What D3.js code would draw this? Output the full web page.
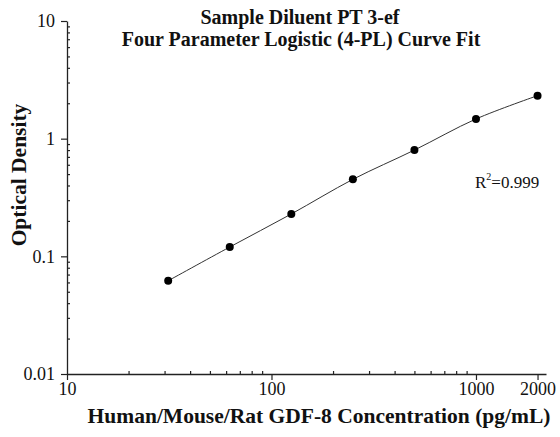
<!DOCTYPE html>
<html>
<head>
<meta charset="utf-8">
<script src="https://cdn.jsdelivr.net/npm/d3@7"></script>
<style>
  html, body { margin: 0; padding: 0; background: #fff; }
  svg { display: block; }
  text { font-family: "Liberation Serif", "Times New Roman", serif; fill: #111; }
</style>
</head>
<body>
<svg id="chart" width="560" height="437"></svg>
<script>
// Data
const concentrations = [31.25, 62.5, 125, 250, 500, 1000, 2000];
const opticalDensity = [0.062, 0.120, 0.229, 0.451, 0.80, 1.47, 2.32];
const xMajorTicks = [10, 100, 1000, 2000];
const xMajorLabels = ["10", "100", "1000", "2000"];
const yMajorTicks = [0.01, 0.1, 1, 10];
const yMajorLabels = ["0.01", "0.1", "1", "10"];
const titleLines = ["Sample Diluent PT 3-ef", "Four Parameter Logistic (4-PL) Curve Fit"];
const xTitle = "Human/Mouse/Rat GDF-8 Concentration (pg/mL)";
const yTitle = "Optical Density";
const r2Label = "0.999";

const svg = d3.select("#chart");
const plotLeft = 67, plotRight = 546, plotTop = 21, plotBottom = 374;

const x = d3.scaleLog().domain([10, 2200]).range([plotLeft, plotRight]);
const y = d3.scaleLog().domain([0.01, 10]).range([plotBottom, plotTop]);

// minor ticks
const xMinor = [];
for (let d = 10; d < 1000; d *= 10) for (let m = 2; m <= 9; m++) xMinor.push(m * d);
const yMinor = [];
for (let d = 0.01; d < 9; d *= 10) for (let m = 2; m <= 9; m++) yMinor.push(+(m * d).toPrecision(3));

const axisColor = "#222";
const tickFont = "18px";

// X axis
const gx = svg.append("g").attr("transform", `translate(0,${plotBottom})`);
gx.call(d3.axisBottom(x).tickValues(xMajorTicks).tickFormat((d, i) => xMajorLabels[i]).tickSize(6).tickPadding(2).tickSizeOuter(0));
const gxMinor = gx.append("g").call(d3.axisTop(x).tickValues(xMinor).tickFormat("").tickSize(3).tickSizeOuter(0));
gxMinor.select(".domain").remove();
gx.selectAll(".domain").attr("stroke", axisColor).attr("stroke-width", 1.3);
gx.selectAll(".tick line").attr("stroke", axisColor).attr("stroke-width", 1.2);
gx.selectAll(".tick text").style("font-family", '"Liberation Serif", serif').style("font-size", tickFont).attr("fill", "#111");

// Y axis
const gy = svg.append("g").attr("transform", `translate(${plotLeft},0)`);
gy.call(d3.axisLeft(y).tickValues(yMajorTicks).tickFormat((d, i) => yMajorLabels[i]).tickSize(6).tickPadding(6).tickSizeOuter(0));
const gyMinor = gy.append("g").call(d3.axisRight(y).tickValues(yMinor).tickFormat("").tickSize(3).tickSizeOuter(0));
gyMinor.select(".domain").remove();
gy.selectAll(".domain").attr("stroke", axisColor).attr("stroke-width", 1.3);
gy.selectAll(".tick line").attr("stroke", axisColor).attr("stroke-width", 1.2);
gy.selectAll(".tick text").style("font-family", '"Liberation Serif", serif').style("font-size", tickFont).attr("fill", "#111");

// Curve
const pts = concentrations.map((c, i) => [c, opticalDensity[i]]);
svg.append("path")
  .datum(pts)
  .attr("fill", "none")
  .attr("stroke", "#333")
  .attr("stroke-width", 1)
  .attr("d", d3.line().x(d => x(d[0])).y(d => y(d[1])).curve(d3.curveCatmullRom.alpha(0.5)));

// Points
svg.append("g").selectAll("circle")
  .data(pts)
  .join("circle")
  .attr("cx", d => x(d[0]))
  .attr("cy", d => y(d[1]))
  .attr("r", 4)
  .attr("fill", "#000");

// Title
svg.append("text")
  .attr("x", 300).attr("y", 24)
  .attr("text-anchor", "middle")
  .style("font-size", "20px").style("font-weight", "bold")
  .text(titleLines[0]);
svg.append("text")
  .attr("x", 301).attr("y", 46)
  .attr("text-anchor", "middle")
  .style("font-size", "20px").style("font-weight", "bold")
  .text(titleLines[1]);

// Axis titles
svg.append("text")
  .attr("x", 319).attr("y", 423)
  .attr("text-anchor", "middle")
  .style("font-size", "21.5px").style("font-weight", "bold")
  .text(xTitle);
svg.append("text")
  .attr("transform", "translate(26,175) rotate(-90)")
  .attr("text-anchor", "middle")
  .style("font-size", "21.5px").style("font-weight", "bold")
  .text(yTitle);

// R^2 annotation
const r2 = svg.append("text")
  .attr("x", 475).attr("y", 188)
  .style("font-size", "17px");
r2.append("tspan").text("R");
r2.append("tspan").attr("dy", -8).style("font-size", "10px").text("2");
r2.append("tspan").attr("dy", 8).text("=" + r2Label);
</script>
</body>
</html>
